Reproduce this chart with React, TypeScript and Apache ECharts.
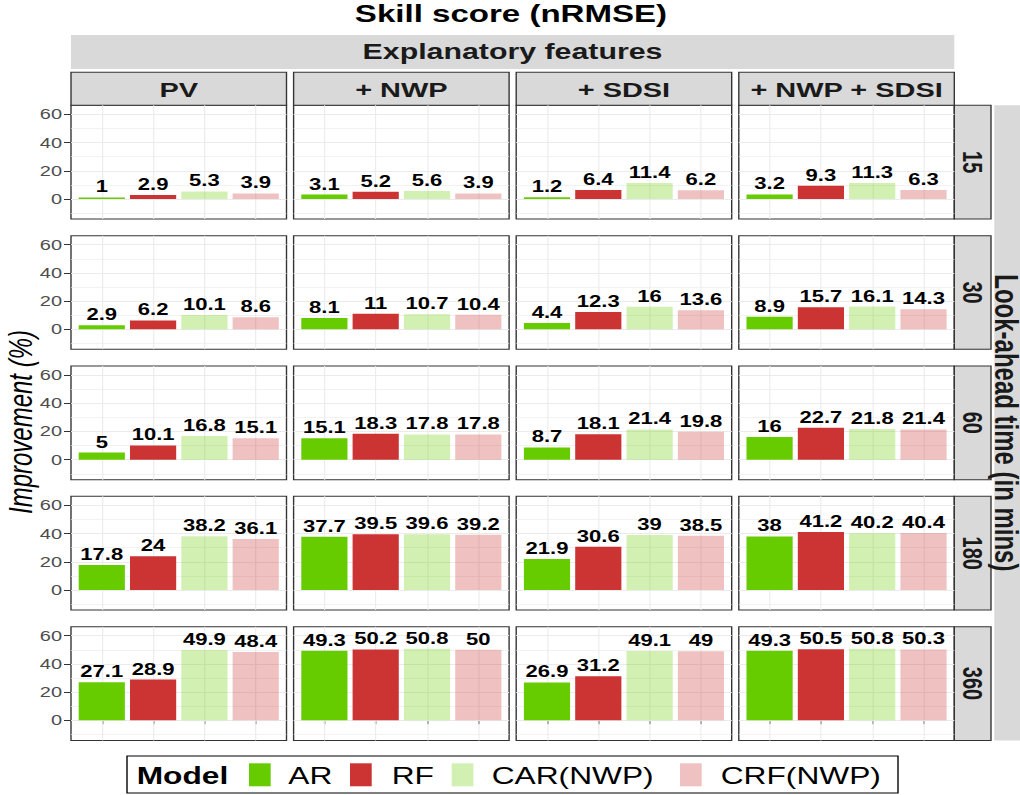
import React, { useEffect, useRef } from "react";
import * as echarts from "echarts";

// ---------- data ----------
const lookAheads = ["15", "30", "60", "180", "360"];
const features = ["PV", "+ NWP", "+ SDSI", "+ NWP + SDSI"];
const models = ["AR", "RF", "CAR(NWP)", "CRF(NWP)"];
// rows: look-ahead 15, 30, 60, 180, 360 ; values per model AR, RF, CAR(NWP), CRF(NWP)
const pvValues = [
  [1, 2.9, 5.3, 3.9],
  [2.9, 6.2, 10.1, 8.6],
  [5, 10.1, 16.8, 15.1],
  [17.8, 24, 38.2, 36.1],
  [27.1, 28.9, 49.9, 48.4],
];
const nwpValues = [
  [3.1, 5.2, 5.6, 3.9],
  [8.1, 11, 10.7, 10.4],
  [15.1, 18.3, 17.8, 17.8],
  [37.7, 39.5, 39.6, 39.2],
  [49.3, 50.2, 50.8, 50],
];
const sdsiValues = [
  [1.2, 6.4, 11.4, 6.2],
  [4.4, 12.3, 16, 13.6],
  [8.7, 18.1, 21.4, 19.8],
  [21.9, 30.6, 39, 38.5],
  [26.9, 31.2, 49.1, 49],
];
const nwpSdsiValues = [
  [3.2, 9.3, 11.3, 6.3],
  [8.9, 15.7, 16.1, 14.3],
  [16, 22.7, 21.8, 21.4],
  [38, 41.2, 40.2, 40.4],
  [49.3, 50.5, 50.8, 50.3],
];
const yTicks = [0, 20, 40, 60];
const yMinorTicks = [-10, 10, 30, 50];
const xPositions = [1, 2, 3, 4];

const panelValues = [pvValues, nwpValues, sdsiValues, nwpSdsiValues];

// ---------- styles ----------
const modelColors = ["#66cc00", "#cc3333", "rgba(102,204,0,0.3)", "rgba(204,51,51,0.3)"];
const FONT = "'Liberation Sans', Arial, Helvetica, sans-serif";
const CHART_W = 740;
const S = 1020 / CHART_W; // horizontal stretch of the whole picture
const X = (v: number) => v / S;

const panelLeft0 = 71;
const panelStepX = 222.6;
const panelW = 215.5;
const panelTop0 = 105.3;
const panelStepY = 130.35;
const panelH = 113.7;

export default function App() {
  const ref = useRef<HTMLDivElement>(null);

  useEffect(() => {
    if (!ref.current) return;
    const chart = echarts.init(ref.current, undefined, { renderer: "svg" });

    const grids: any[] = [];
    const xAxes: any[] = [];
    const yAxes: any[] = [];
    const series: any[] = [];
    const graphics: any[] = [];

    lookAheads.forEach((la, r) => {
      features.forEach((f, c) => {
        const k = r * features.length + c;
        const top = panelTop0 + r * panelStepY;
        grids.push({
          left: X(panelLeft0 + c * panelStepX),
          top,
          width: X(panelW),
          height: panelH,
          containLabel: false,
          show: true,
          backgroundColor: "#ffffff",
          borderColor: "#333333",
          borderWidth: 1,
        });
        xAxes.push({
          gridIndex: k,
          type: "value",
          min: 0.4,
          max: 4.6,
          axisLine: { show: false },
          axisLabel: { show: false },
          splitLine: { show: false },
          axisTick:
            r === lookAheads.length - 1
              ? { show: true, customValues: xPositions, length: 4, lineStyle: { color: "#333333", width: 1 } }
              : { show: false },
        });
        yAxes.push({
          gridIndex: k,
          type: "value",
          min: -14.2,
          max: 66.4,
          axisLine: { show: false },
          splitLine: { show: false },
          axisTick:
            c === 0
              ? { show: true, customValues: yTicks, length: X(7), lineStyle: { color: "#333333", width: 1 } }
              : { show: false },
          axisLabel:
            c === 0
              ? {
                  show: true,
                  customValues: yTicks,
                  color: "#4d4d4d",
                  fontSize: 14.5,
                  fontFamily: FONT,
                  margin: X(9),
                }
              : { show: false },
        });
        const gridLine = (w: number) => ({ color: "#ebebeb", width: w, type: "solid" });
        series.push({
          type: "line",
          xAxisIndex: k,
          yAxisIndex: k,
          data: [],
          silent: true,
          z: 1,
          markLine: {
            silent: true,
            z: 1,
            symbol: "none",
            label: { show: false },
            data: [
              ...yMinorTicks.map((v) => ({ yAxis: v, lineStyle: gridLine(0.55) })),
              ...yTicks.map((v) => ({ yAxis: v, lineStyle: gridLine(1.1) })),
              ...xPositions.map((v) => ({ xAxis: v, lineStyle: gridLine(X(1.1)) })),
            ],
          },
        });
        const vals = panelValues[c][r];
        series.push({
          type: "bar",
          name: `${f} ${la}`,
          xAxisIndex: k,
          yAxisIndex: k,
          z: 3,
          barWidth: "90%",
          data: vals.map((v, i) => ({
            value: [xPositions[i], v],
            name: models[i],
            itemStyle: { color: modelColors[i] },
          })),
          label: {
            show: true,
            position: "top",
            distance: 2.5,
            fontSize: 16,
            fontWeight: "bold",
            fontFamily: FONT,
            color: "#000000",
            formatter: (p: any) => String(p.value[1]),
          },
        });
      });

      // row strip
      const top = panelTop0 + r * panelStepY;
      graphics.push({
        type: "rect",
        shape: { x: X(954.3), y: top, width: X(36.7), height: panelH },
        style: { fill: "#d9d9d9", stroke: "#333333", lineWidth: 1 },
      });
      graphics.push({
        type: "text",
        x: X(972.6),
        y: top + panelH / 2,
        rotation: -Math.PI / 2,
        style: {
          text: la,
          font: `bold 20px ${FONT}`,
          fill: "#1a1a1a",
          align: "center",
          verticalAlign: "middle",
        },
      });
    });

    // column strips
    features.forEach((f, c) => {
      graphics.push({
        type: "rect",
        shape: { x: X(panelLeft0 + c * panelStepX), y: 72.3, width: X(panelW), height: 33 },
        style: { fill: "#d9d9d9", stroke: "#333333", lineWidth: 1 },
      });
      graphics.push({
        type: "text",
        x: X(panelLeft0 + c * panelStepX + panelW / 2),
        y: 90,
        style: {
          text: f,
          font: `bold 21px ${FONT}`,
          fill: "#1a1a1a",
          align: "center",
          verticalAlign: "middle",
        },
      });
    });

    const lastBottom = panelTop0 + (lookAheads.length - 1) * panelStepY + panelH;

    // title, outer strips, axis title
    graphics.push(
      {
        type: "text",
        x: X(511),
        y: 14,
        style: {
          text: "Skill score (nRMSE)",
          font: `bold 24px ${FONT}`,
          fill: "#000000",
          align: "center",
          verticalAlign: "middle",
        },
      },
      {
        type: "rect",
        shape: { x: X(71), y: 35, width: X(883.3), height: 34 },
        style: { fill: "#d9d9d9" },
      },
      {
        type: "text",
        x: X(512.5),
        y: 52,
        style: {
          text: "Explanatory features",
          font: `bold 22px ${FONT}`,
          fill: "#1a1a1a",
          align: "center",
          verticalAlign: "middle",
        },
      },
      {
        type: "rect",
        shape: { x: X(994.3), y: panelTop0, width: X(40), height: lastBottom - panelTop0 },
        style: { fill: "#d9d9d9" },
      },
      {
        type: "text",
        x: X(1006.5),
        y: (panelTop0 + lastBottom) / 2,
        rotation: -Math.PI / 2,
        style: {
          text: "Look-ahead time (in mins)",
          font: `bold 24px ${FONT}`,
          fill: "#1a1a1a",
          align: "center",
          verticalAlign: "middle",
        },
      },
      {
        type: "text",
        x: X(21),
        y: 422,
        rotation: Math.PI / 2,
        style: {
          text: "Improvement (%)",
          font: `italic 24px ${FONT}`,
          fill: "#000000",
          align: "center",
          verticalAlign: "middle",
        },
      }
    );

    // legend
    const swatchX = [249, 350, 451.7, 680];
    const labelX = [288.3, 391.7, 491.7, 720.7];
    graphics.push(
      {
        type: "rect",
        shape: { x: X(127), y: 756, width: X(771), height: 37 },
        style: { fill: "#ffffff", stroke: "#000000", lineWidth: 1 },
      },
      {
        type: "text",
        x: X(136.7),
        y: 776,
        style: {
          text: "Model",
          font: `bold 23px ${FONT}`,
          fill: "#000000",
          align: "left",
          verticalAlign: "middle",
        },
      }
    );
    models.forEach((m, i) => {
      graphics.push(
        {
          type: "rect",
          shape: { x: X(swatchX[i]), y: 763.3, width: X(21.7), height: 23 },
          style: { fill: modelColors[i] },
        },
        {
          type: "text",
          x: X(labelX[i]),
          y: 776,
          style: {
            text: m,
            font: `23px ${FONT}`,
            fill: "#000000",
            align: "left",
            verticalAlign: "middle",
          },
        }
      );
    });

    chart.setOption({
      animation: false,
      backgroundColor: "#ffffff",
      textStyle: { fontFamily: FONT },
      grid: grids,
      xAxis: xAxes,
      yAxis: yAxes,
      series,
      graphic: { elements: graphics },
    });

    return () => {
      chart.dispose();
    };
  }, []);

  return (
    <div
      ref={ref}
      style={{
        position: "absolute",
        left: 0,
        top: 0,
        width: CHART_W,
        height: 795,
        transform: `scaleX(${S})`,
        transformOrigin: "0 0",
      }}
    />
  );
}
